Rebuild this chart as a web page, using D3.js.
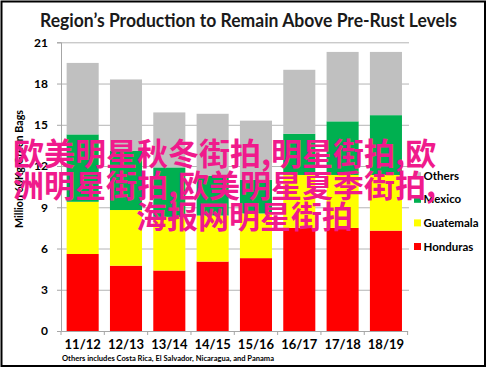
<!DOCTYPE html>
<html><head><meta charset="utf-8">
<script src="https://cdn.jsdelivr.net/npm/d3@7"></script>
<style>html,body{margin:0;padding:0;background:#fff;} svg{display:block;}</style>
</head><body>
<script>
const categories = ["11/12","12/13","13/14","14/15","15/16","16/17","17/18","18/19"];
const honduras  = [5.6, 4.75, 4.4, 5.05, 5.3, 7.5, 7.5, 7.3];
const guatemala = [3.8, 4.05, 3.9, 3.35, 3.25, 3.85, 3.85, 4.05];
const mexico    = [4.9, 4.3, 3.6, 2.9, 2.45, 3.0, 3.9, 4.35];
const others    = [5.2, 5.2, 4.0, 4.5, 4.3, 4.65, 5.05, 4.6];
const seriesNames = ["Honduras","Guatemala","Mexico","Others"];
const seriesColors = ["#ff0000","#ffff00","#00b050","#c0c0c0"];
const yTicks = [0,3,6,9,12,15,18,21];
const titleText = "Region\u2019s Production to Remain Above Pre-Rust Levels";
const yTitle = "Million 60Kg Green Bags";
const footnote = "Others includes Costa Rica, El Salvador, Nicaragua, and Panama";
const watermark = ["欧美明星秋冬街拍,明星街拍,欧","洲明星街拍,欧美明星夏季街拍,","海报网明星街拍"];

const W = 487, H = 369;
const svg = d3.select("body").append("svg").attr("width", W).attr("height", H);
const F = "Lato, 'Open Sans', sans-serif";

svg.append("rect").attr("x",1.5).attr("y",1.5).attr("width",483.5).attr("height",364.5)
  .attr("fill","#fff").attr("stroke","#000").attr("stroke-width",2);

const table = categories.map((c,i)=>({cat:c, Honduras:honduras[i], Guatemala:guatemala[i], Mexico:mexico[i], Others:others[i]}));
const stack = d3.stack().keys(seriesNames)(table);

const x = d3.scaleBand().domain(categories).range([61, 407.6]).paddingInner(0.26).paddingOuter(0.13);
const y = d3.scaleLinear().domain([0,21]).range([331, 42.3]);

// gridlines
svg.append("g").selectAll("line").data(yTicks.filter(d=>d>0)).join("line")
  .attr("x1",61).attr("x2",409).attr("y1",d=>y(d)+0.5).attr("y2",d=>y(d)+0.5)
  .attr("stroke","#b4b4b4").attr("stroke-width",1);

// bars
svg.append("g").selectAll("g").data(stack).join("g")
  .attr("fill",(d,i)=>seriesColors[i])
  .selectAll("rect").data(d=>d).join("rect")
  .attr("x",d=>x(d.data.cat)).attr("width",x.bandwidth())
  .attr("y",d=>y(d[1])).attr("height",d=>y(d[0])-y(d[1]));

// y axis
const ya = svg.append("g").attr("transform","translate(61,0)")
  .call(d3.axisLeft(y).tickValues(yTicks).tickSize(4).tickPadding(9).tickFormat(d3.format("d")));
ya.select(".domain").attr("stroke","#a6a6a6");
ya.selectAll(".tick line").attr("stroke","#a6a6a6");
ya.selectAll("text").attr("font-family",F).attr("font-weight","bold").attr("font-size",12).attr("fill","#000");

// x axis
const xa = svg.append("g").attr("transform","translate(0,331)")
  .call(d3.axisBottom(x).tickSize(0).tickPadding(9));
xa.select(".domain").attr("stroke","#a6a6a6");
xa.selectAll("text").attr("font-family",F).attr("font-weight","bold").attr("font-size",13).attr("fill","#000");
const step = x.step(), off = step*x.paddingInner()/2;
const bounds = categories.map(c=>x(c)-off).concat([x(categories[categories.length-1])+x.bandwidth()+off]);
svg.append("g").selectAll("line").data(bounds).join("line")
  .attr("x1",d=>d).attr("x2",d=>d).attr("y1",331).attr("y2",335)
  .attr("stroke","#a6a6a6");

// title
svg.append("text").attr("x",248.5).attr("y",27).attr("text-anchor","middle")
  .attr("font-family",F).attr("font-weight","bold").attr("font-size",19)
  .attr("textLength",417).attr("lengthAdjust","spacingAndGlyphs").attr("fill","#1a1a1a").text(titleText);

// y title
svg.append("text").attr("transform","translate(23,169) rotate(-90)").attr("text-anchor","middle")
  .attr("font-family",F).attr("font-weight","bold").attr("font-size",10.5)
  .attr("textLength",118).attr("lengthAdjust","spacingAndGlyphs").attr("fill","#000").text(yTitle);

// footnote
svg.append("text").attr("x",62).attr("y",360.5)
  .attr("font-family",F).attr("font-weight","bold").attr("font-size",8)
  .attr("textLength",212).attr("lengthAdjust","spacingAndGlyphs").attr("fill","#000").text(footnote);

// legend (top to bottom: Others, Mexico, Guatemala, Honduras)
const legOrder = [3,2,1,0];
const lg = svg.append("g").selectAll("g").data(legOrder).join("g")
  .attr("transform",(d,i)=>`translate(414,${175.7 + i*23.6})`);
lg.append("rect").attr("x",0).attr("y",-3.5).attr("width",7).attr("height",7).attr("fill",d=>seriesColors[d]);
lg.append("text").attr("x",9.5).attr("y",4).attr("font-family",F).attr("font-weight","bold")
  .attr("font-size",11.5).attr("fill","#000").text(d=>seriesNames[d]);

// watermark overlay
svg.append("g").selectAll("text").data(watermark).join("text")
  .attr("x",(d,i)=>i===2?136:13).attr("y",(d,i)=>165 + i*31.5)
  .attr("font-family","'Noto Sans CJK SC', sans-serif").attr("font-weight","bold").attr("font-size",31)
  .attr("fill","#f01a8c").text(d=>d);
</script>
</body></html>
